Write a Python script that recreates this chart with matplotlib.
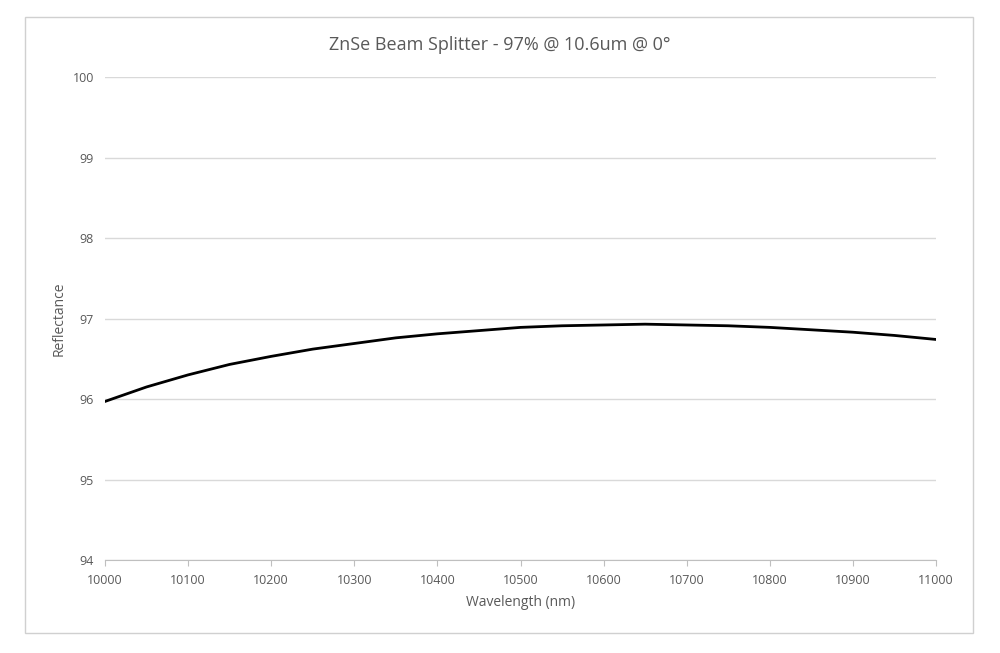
import matplotlib
matplotlib.use("Agg")
import matplotlib.pyplot as plt
from matplotlib.patches import Rectangle

wavelength = [10000, 10050, 10100, 10150, 10200, 10250, 10300, 10350, 10400, 10450, 10500,
              10550, 10600, 10650, 10700, 10750, 10800, 10850, 10900, 10950, 11000]
reflectance = [95.97, 96.15, 96.30, 96.43, 96.53, 96.62, 96.69, 96.76, 96.81, 96.85, 96.89,
               96.91, 96.92, 96.93, 96.92, 96.91, 96.89, 96.86, 96.83, 96.79, 96.74]
xticks = list(range(10000, 11001, 100))
yticks = list(range(94, 101))

plt.rcParams['font.family'] = ['Open Sans', 'DejaVu Sans']
fig = plt.figure(figsize=(10, 6.53), dpi=100)
fig.patches.append(Rectangle((0.025, 0.03), 0.948, 0.944, transform=fig.transFigure,
                             fill=False, edgecolor='#d0d0d0', linewidth=1))
ax = fig.add_axes([0.105, 0.1424, 0.831, 0.7396])
ax.plot(wavelength, reflectance, color='black', linewidth=2, solid_joinstyle='round')
ax.set_xlim(10000, 11000)
ax.set_ylim(94, 100)
ax.set_xticks(xticks)
ax.set_yticks(yticks)
ax.grid(axis='y', color='#d9d9d9', linewidth=1)
ax.set_axisbelow(True)
for s in ['top', 'right', 'left']:
    ax.spines[s].set_visible(False)
ax.spines['bottom'].set_color('#bfbfbf')
ax.tick_params(axis='y', length=0, labelsize=9, labelcolor='#595959', pad=8)
ax.tick_params(axis='x', length=4, color='#bfbfbf', labelsize=9, labelcolor='#595959', pad=6)
ax.set_xlabel('Wavelength (nm)', fontsize=10, color='#595959', labelpad=6)
ax.set_ylabel('Reflectance', fontsize=10, color='#595959')
fig.text(0.5, 0.931, 'ZnSe Beam Splitter - 97% @ 10.6um @ 0°', ha='center', va='center',
         fontsize=13, color='#595959')
fig.savefig('out.png', dpi=100)
